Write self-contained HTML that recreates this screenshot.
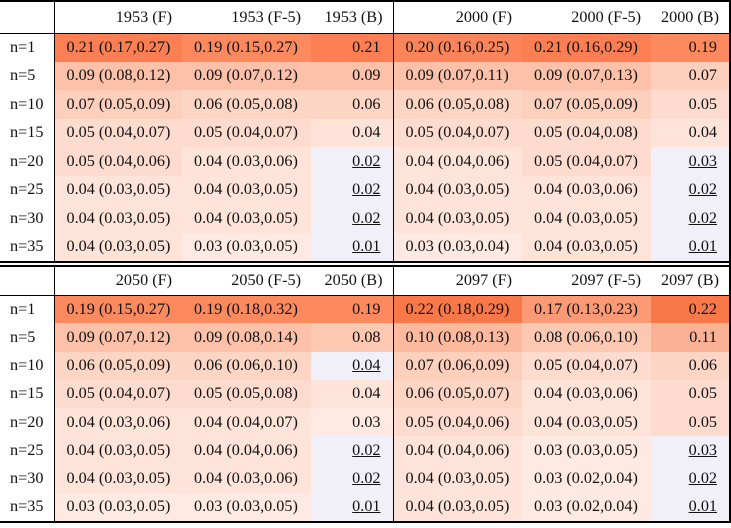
<!DOCTYPE html>
<html><head><meta charset="utf-8"><style>
body{margin:0;width:731px;height:528px;background:#fff;position:relative;overflow:hidden;font-family:"Liberation Serif",serif;font-size:16.2px;color:#111}
table{position:absolute;left:0;border-collapse:collapse;table-layout:fixed}
td{padding:0;white-space:nowrap;overflow:hidden}
td.l{padding-left:10px;text-align:left}
td.f{padding-left:12px;text-align:left}
td.b{padding-right:12px;text-align:right}
tr.h td{text-align:right;padding-right:10px;background:#fff}
td.b2{border-left:1.5px solid #000}
td.c0{border-right:1.5px solid #000}
u{text-decoration:underline}
.ln{position:absolute;background:#000}
</style></head><body>
<table id="t1" style="top:1px;width:729px">
<colgroup><col style="width:54px"><col style="width:128px"><col style="width:129px"><col style="width:82px"><col style="width:129px"><col style="width:129px"><col style="width:78px"></colgroup>
<tr class="h" style="height:32px"><td class="c0"></td><td>1953 (F)</td><td>1953 (F-5)</td><td>1953 (B)</td><td class="b2">2000 (F)</td><td>2000 (F-5)</td><td>2000 (B)</td></tr>
<tr style="height:28.5px"><td class="l c0">n=1</td><td class="f" style="background:#fb7f52">0.21 (0.17,0.27)</td><td class="f" style="background:#fc8a5e">0.19 (0.15,0.27)</td><td class="b" style="background:#fb7f52">0.21</td><td class="f b2" style="background:#fb845a">0.20 (0.16,0.25)</td><td class="f" style="background:#fb7f52">0.21 (0.16,0.29)</td><td class="b" style="background:#fc8a5e">0.19</td></tr>
<tr style="height:28.5px"><td class="l c0">n=5</td><td class="f" style="background:#fcc1a8">0.09 (0.08,0.12)</td><td class="f" style="background:#fcc1a8">0.09 (0.07,0.12)</td><td class="b" style="background:#fcc1a8">0.09</td><td class="f b2" style="background:#fcc1a8">0.09 (0.07,0.11)</td><td class="f" style="background:#fcc1a8">0.09 (0.07,0.13)</td><td class="b" style="background:#fdcfbd">0.07</td></tr>
<tr style="height:28.5px"><td class="l c0">n=10</td><td class="f" style="background:#fdcfbd">0.07 (0.05,0.09)</td><td class="f" style="background:#fdd5c5">0.06 (0.05,0.08)</td><td class="b" style="background:#fdd5c5">0.06</td><td class="f b2" style="background:#fdd5c5">0.06 (0.05,0.08)</td><td class="f" style="background:#fdcfbd">0.07 (0.05,0.09)</td><td class="b" style="background:#fddccf">0.05</td></tr>
<tr style="height:28.5px"><td class="l c0">n=15</td><td class="f" style="background:#fddccf">0.05 (0.04,0.07)</td><td class="f" style="background:#fddccf">0.05 (0.04,0.07)</td><td class="b" style="background:#fee3d8">0.04</td><td class="f b2" style="background:#fddccf">0.05 (0.04,0.07)</td><td class="f" style="background:#fddccf">0.05 (0.04,0.08)</td><td class="b" style="background:#fee3d8">0.04</td></tr>
<tr style="height:28.5px"><td class="l c0">n=20</td><td class="f" style="background:#fddccf">0.05 (0.04,0.06)</td><td class="f" style="background:#fee3d8">0.04 (0.03,0.06)</td><td class="b" style="background:#f1eff8"><u>0.02</u></td><td class="f b2" style="background:#fee3d8">0.04 (0.04,0.06)</td><td class="f" style="background:#fddccf">0.05 (0.04,0.07)</td><td class="b" style="background:#f1eff8"><u>0.03</u></td></tr>
<tr style="height:28.5px"><td class="l c0">n=25</td><td class="f" style="background:#fee3d8">0.04 (0.03,0.05)</td><td class="f" style="background:#fee3d8">0.04 (0.03,0.05)</td><td class="b" style="background:#f1eff8"><u>0.02</u></td><td class="f b2" style="background:#fee3d8">0.04 (0.03,0.05)</td><td class="f" style="background:#fee3d8">0.04 (0.03,0.06)</td><td class="b" style="background:#f1eff8"><u>0.02</u></td></tr>
<tr style="height:28.5px"><td class="l c0">n=30</td><td class="f" style="background:#fee3d8">0.04 (0.03,0.05)</td><td class="f" style="background:#fee3d8">0.04 (0.03,0.05)</td><td class="b" style="background:#f1eff8"><u>0.02</u></td><td class="f b2" style="background:#fee3d8">0.04 (0.03,0.05)</td><td class="f" style="background:#fee3d8">0.04 (0.03,0.05)</td><td class="b" style="background:#f1eff8"><u>0.02</u></td></tr>
<tr style="height:28.5px"><td class="l c0">n=35</td><td class="f" style="background:#fee3d8">0.04 (0.03,0.05)</td><td class="f" style="background:#feeae2">0.03 (0.03,0.05)</td><td class="b" style="background:#f1eff8"><u>0.01</u></td><td class="f b2" style="background:#feeae2">0.03 (0.03,0.04)</td><td class="f" style="background:#fee3d8">0.04 (0.03,0.05)</td><td class="b" style="background:#f1eff8"><u>0.01</u></td></tr>
</table>
<table id="t2" style="top:266px;width:729px">
<colgroup><col style="width:54px"><col style="width:128px"><col style="width:129px"><col style="width:82px"><col style="width:129px"><col style="width:129px"><col style="width:78px"></colgroup>
<tr class="h" style="height:29px"><td class="c0"></td><td>2050 (F)</td><td>2050 (F-5)</td><td>2050 (B)</td><td class="b2">2097 (F)</td><td>2097 (F-5)</td><td>2097 (B)</td></tr>
<tr style="height:28.25px"><td class="l c0">n=1</td><td class="f" style="background:#fc8a5e">0.19 (0.15,0.27)</td><td class="f" style="background:#fc8a5e">0.19 (0.18,0.32)</td><td class="b" style="background:#fc8a5e">0.19</td><td class="f b2" style="background:#f97849">0.22 (0.18,0.29)</td><td class="f" style="background:#fc9a75">0.17 (0.13,0.23)</td><td class="b" style="background:#f97849">0.22</td></tr>
<tr style="height:28.25px"><td class="l c0">n=5</td><td class="f" style="background:#fcc1a8">0.09 (0.07,0.12)</td><td class="f" style="background:#fcc1a8">0.09 (0.08,0.14)</td><td class="b" style="background:#fcc8b2">0.08</td><td class="f b2" style="background:#fcb99e">0.10 (0.08,0.13)</td><td class="f" style="background:#fcc8b2">0.08 (0.06,0.10)</td><td class="b" style="background:#fbb294">0.11</td></tr>
<tr style="height:28.25px"><td class="l c0">n=10</td><td class="f" style="background:#fdd5c5">0.06 (0.05,0.09)</td><td class="f" style="background:#fdd5c5">0.06 (0.06,0.10)</td><td class="b" style="background:#f1eff8"><u>0.04</u></td><td class="f b2" style="background:#fdcfbd">0.07 (0.06,0.09)</td><td class="f" style="background:#fddccf">0.05 (0.04,0.07)</td><td class="b" style="background:#fdd5c5">0.06</td></tr>
<tr style="height:28.25px"><td class="l c0">n=15</td><td class="f" style="background:#fddccf">0.05 (0.04,0.07)</td><td class="f" style="background:#fddccf">0.05 (0.05,0.08)</td><td class="b" style="background:#fee3d8">0.04</td><td class="f b2" style="background:#fdd5c5">0.06 (0.05,0.07)</td><td class="f" style="background:#fee3d8">0.04 (0.03,0.06)</td><td class="b" style="background:#fddccf">0.05</td></tr>
<tr style="height:28.25px"><td class="l c0">n=20</td><td class="f" style="background:#fee3d8">0.04 (0.03,0.06)</td><td class="f" style="background:#fee3d8">0.04 (0.04,0.07)</td><td class="b" style="background:#feeae2">0.03</td><td class="f b2" style="background:#fddccf">0.05 (0.04,0.06)</td><td class="f" style="background:#fee3d8">0.04 (0.03,0.05)</td><td class="b" style="background:#fddccf">0.05</td></tr>
<tr style="height:28.25px"><td class="l c0">n=25</td><td class="f" style="background:#fee3d8">0.04 (0.03,0.05)</td><td class="f" style="background:#fee3d8">0.04 (0.04,0.06)</td><td class="b" style="background:#f1eff8"><u>0.02</u></td><td class="f b2" style="background:#fee3d8">0.04 (0.04,0.06)</td><td class="f" style="background:#feeae2">0.03 (0.03,0.05)</td><td class="b" style="background:#f1eff8"><u>0.03</u></td></tr>
<tr style="height:28.25px"><td class="l c0">n=30</td><td class="f" style="background:#fee3d8">0.04 (0.03,0.05)</td><td class="f" style="background:#fee3d8">0.04 (0.03,0.06)</td><td class="b" style="background:#f1eff8"><u>0.02</u></td><td class="f b2" style="background:#fee3d8">0.04 (0.03,0.05)</td><td class="f" style="background:#feeae2">0.03 (0.02,0.04)</td><td class="b" style="background:#f1eff8"><u>0.02</u></td></tr>
<tr style="height:28.25px"><td class="l c0">n=35</td><td class="f" style="background:#feeae2">0.03 (0.03,0.05)</td><td class="f" style="background:#feeae2">0.03 (0.03,0.05)</td><td class="b" style="background:#f1eff8"><u>0.01</u></td><td class="f b2" style="background:#fee3d8">0.04 (0.03,0.05)</td><td class="f" style="background:#feeae2">0.03 (0.02,0.04)</td><td class="b" style="background:#f1eff8"><u>0.01</u></td></tr>
</table>
<div class="ln" style="left:0;top:0;width:731px;height:1.5px"></div>
<div class="ln" style="left:0;top:33px;width:731px;height:1px"></div>
<div class="ln" style="left:0;top:261px;width:731px;height:1.5px"></div>
<div class="ln" style="left:0;top:265px;width:731px;height:1.5px"></div>
<div class="ln" style="left:0;top:295px;width:731px;height:1px"></div>
<div class="ln" style="left:0;top:521px;width:731px;height:1.5px"></div>
<div class="ln" style="left:729px;top:0;width:1.5px;height:522px"></div>
</body></html>
